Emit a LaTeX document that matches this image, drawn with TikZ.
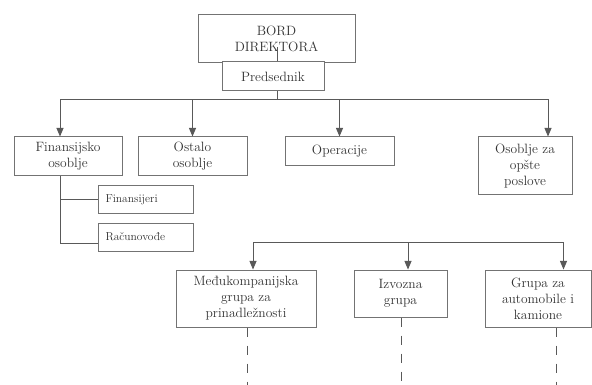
\documentclass[tikz,border=0pt]{standalone}
\usepackage{tikz}
\usetikzlibrary{arrows}
\definecolor{linegray}{gray}{0.35}
\definecolor{boxgray}{gray}{0.45}
\definecolor{textgray}{gray}{0.2}
\tikzset{
 box/.style={draw=boxgray, line width=1pt, fill=white, text=textgray, align=center, inner sep=2pt, font=\rmfamily\fontsize{13.5}{16}\selectfont},
 smallbox/.style={box, text width=80pt, inner xsep=7.5pt, align=left, font=\rmfamily\fontsize{11.5}{14}\selectfont}
}
\tikzstyle{conn}=[draw=linegray, line width=1pt]
\tikzstyle{arr}=[conn, -triangle 45]
\tikzstyle{dashline}=[conn, dash pattern=on 9pt off 9pt]

\begin{document}
\begin{tikzpicture}[x=1pt, y=-1pt]
 \useasboundingbox (0,0) rectangle (592,385);
%
 \coordinate (bordin) at (277,47);
 \coordinate (bus) at (277,100);
 \coordinate (bus2) at (408,242);
 \coordinate (endA) at (247,385);
 \coordinate (endB) at (401,385);
 \coordinate (endC) at (556,385);
%
 \node[box, minimum width=157pt, minimum height=48pt] (bord) at (276.5,38.5) {BORD\\DIREKTORA};
 \draw[conn] (bordin) -- (277,62);
 \node[box, minimum width=102pt, minimum height=29pt] (pred) at (273,76.5) {Predsednik};
%
 \node[box, minimum width=108pt, minimum height=39pt] (fin) at (68,156.5) {Finansijsko\\osoblje};
 \node[box, minimum width=109pt, minimum height=39pt] (ost) at (192.5,156.5) {Ostalo\\osoblje};
 \node[box, minimum width=109pt, minimum height=29pt] (oper) at (339.5,151.5) {Operacije};
 \node[box, minimum width=94pt, minimum height=58pt] (opst) at (525,166) {Osoblje za\\opšte\\poslove};
%
 \node[smallbox, minimum height=27pt] (finr) at (145.5,199.5) {Finansijeri};
 \node[smallbox, minimum height=28pt] (rac) at (145.5,237) {Računovođe};
%
 \node[box, minimum width=140pt, minimum height=57pt] (medj) at (246,298.5) {Međukompanijska\\grupa za\\prinadležnosti};
 \node[box, minimum width=93pt, minimum height=47pt] (izv) at (400.5,293.5) {Izvozna\\grupa};
 \node[box, minimum width=106pt, minimum height=57pt] (auto) at (538,298.5) {Grupa za\\automobile i\\kamione};
%
 \draw[conn] (pred.south -| bus) -- (bus);
 \draw[arr] (bus) -| ([xshift=-8pt]fin.north);
 \draw[arr] (bus) -| (ost.north);
 \draw[arr] (bus) -| (oper.north);
 \draw[arr] (bus) -| ([xshift=23pt]opst.north);
%
 \draw[conn] ([xshift=-8pt]fin.south) |- (finr.west);
 \draw[conn] ([xshift=-8pt]fin.south) |- ([yshift=-6pt]rac.west);
%
 \draw[arr] (bus2) -| ([xshift=7pt]medj.north);
 \draw[arr] (bus2) -- ([xshift=7.5pt]izv.north);
 \draw[arr] (bus2) -| ([xshift=25.5pt]auto.north);
%
 \draw[dashline] (medj.south -| endA) -- (endA);
 \draw[dashline] (izv.south -| endB) -- (endB);
 \draw[dashline] (auto.south -| endC) -- (endC);
\end{tikzpicture}
\end{document}
